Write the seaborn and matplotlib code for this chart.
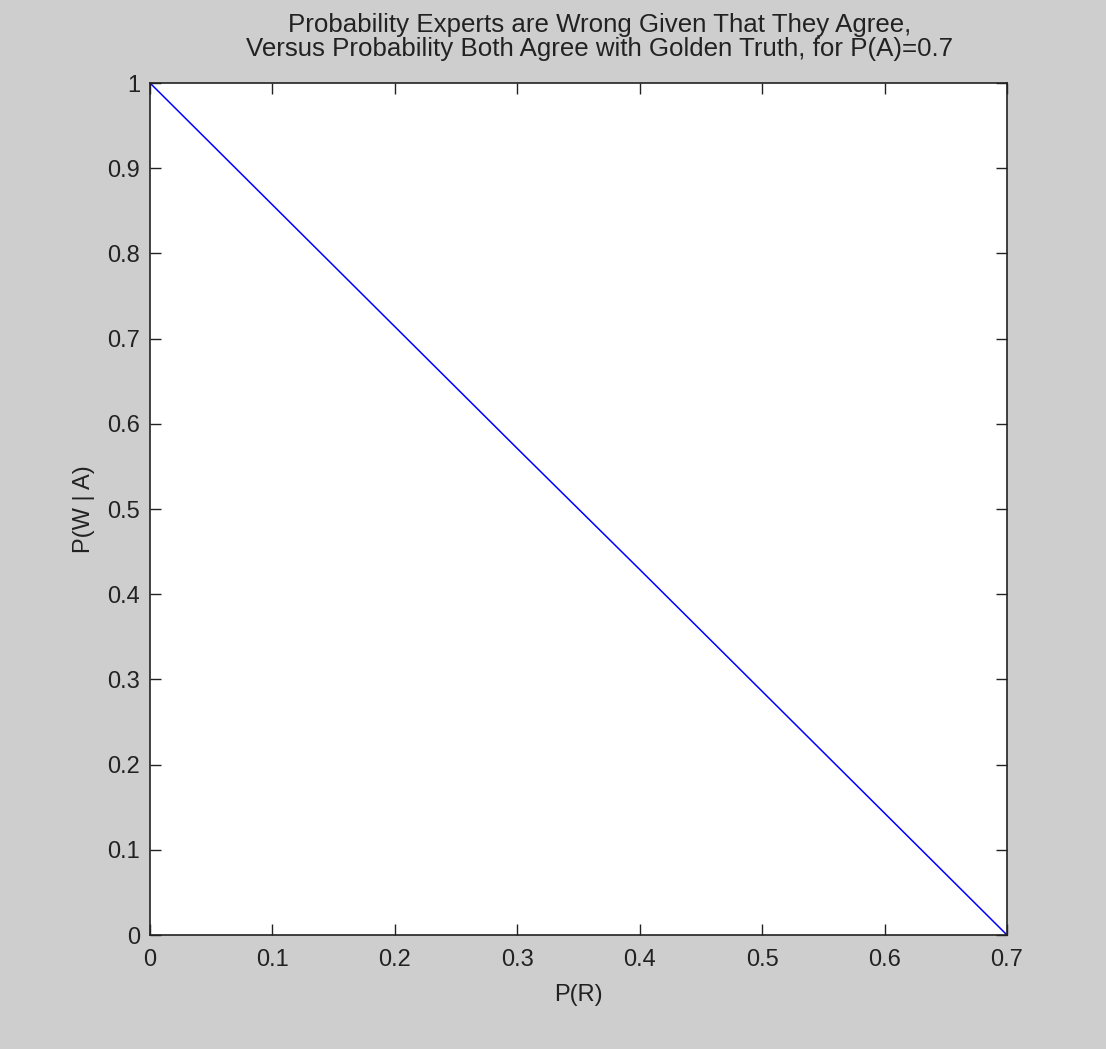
import matplotlib
matplotlib.use('Agg')
import matplotlib.pyplot as plt
import numpy as np
import pandas as pd
import seaborn as sns

# values
p_r = [0.0, 0.1, 0.2, 0.3, 0.4, 0.5, 0.6, 0.7]
p_w_given_a = [1.0, 0.857, 0.714, 0.571, 0.429, 0.286, 0.143, 0.0]
x_ticks = [0, 0.1, 0.2, 0.3, 0.4, 0.5, 0.6, 0.7]
x_ticklabels = ['0', '0.1', '0.2', '0.3', '0.4', '0.5', '0.6', '0.7']
y_ticks = [0, 0.1, 0.2, 0.3, 0.4, 0.5, 0.6, 0.7, 0.8, 0.9, 1]
y_ticklabels = ['0', '0.1', '0.2', '0.3', '0.4', '0.5', '0.6', '0.7', '0.8', '0.9', '1']

df = pd.DataFrame({'P(R)': p_r, 'P(W | A)': p_w_given_a})

sns.set_style('ticks')
plt.rcParams['font.family'] = ['Liberation Sans', 'DejaVu Sans']

fig = plt.figure(figsize=(11.06, 10.49), dpi=100, facecolor='#cecece')
ax = fig.add_axes([150 / 1106, 1 - 935 / 1049, 857 / 1106, 852 / 1049])
ax.set_facecolor('white')

sns.lineplot(data=df, x='P(R)', y='P(W | A)', ax=ax, color='#0000ff', linewidth=1.1)

ax.set_xlim(0, 0.7)
ax.set_ylim(0, 1)
ax.set_xticks(x_ticks)
ax.set_xticklabels(x_ticklabels)
ax.set_yticks(y_ticks)
ax.set_yticklabels(y_ticklabels)
ax.tick_params(direction='in', length=8, width=1, top=True, right=True,
               labelsize=17, colors='#222222')
ax.tick_params(axis='x', pad=10)
ax.tick_params(axis='y', pad=7)
for s in ax.spines.values():
    s.set_visible(True)
    s.set_color('#222222')
    s.set_linewidth(1.2)

ax.set_xlabel('P(R)', fontsize=17, color='#222222', labelpad=9.5)
ax.set_ylabel('P(W | A)', fontsize=17, color='#222222', labelpad=9)
ax.set_title('Probability Experts are Wrong Given That They Agree,\n'
             'Versus Probability Both Agree with Golden Truth, for P(A)=0.7',
             fontsize=18.6, color='#222222', pad=19.5, linespacing=1.0,
             x=0.525)

fig.savefig('out.png', dpi=100, facecolor=fig.get_facecolor())
